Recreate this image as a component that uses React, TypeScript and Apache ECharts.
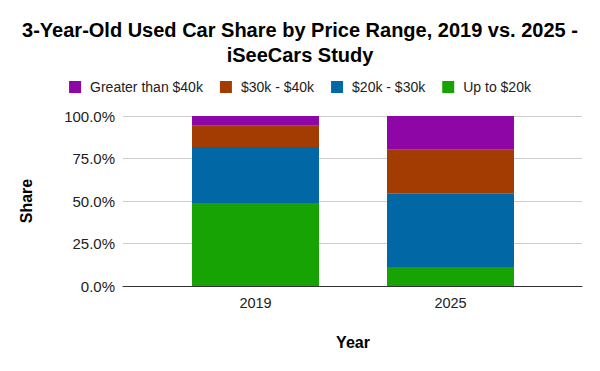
import React, { useEffect, useRef } from "react";
import * as echarts from "echarts";

const years = ["2019", "2025"];
const seriesNames = ["Up to $20k", "$20k - $30k", "$30k - $40k", "Greater than $40k"];
const upTo20k = [48.8, 11.2];
const k20to30 = [33.0, 43.1];
const k30to40 = [12.5, 25.9];
const over40k = [5.7, 19.8];
const seriesColors = ["#17a303", "#0268a5", "#a33c02", "#8e06a6"];
const yTicks = [0, 25, 50, 75, 100];

const FONT = "'Liberation Sans', Arial, sans-serif";

export default function App() {
  const ref = useRef<HTMLDivElement>(null);
  useEffect(() => {
    document.body.style.margin = "0";
    if (!ref.current) return;
    const chart = echarts.init(ref.current, undefined, { renderer: "svg" });
    const values = [upTo20k, k20to30, k30to40, over40k];
    chart.setOption({
      animation: false,
      backgroundColor: "#ffffff",
      textStyle: { fontFamily: FONT },
      title: {
        text: "3-Year-Old Used Car Share by Price Range, 2019 vs. 2025 -\niSeeCars Study",
        left: "center",
        top: 12,
        textStyle: { fontSize: 20, fontWeight: "bold", color: "#000", lineHeight: 25, fontFamily: FONT },
      },
      legend: {
        data: [...seriesNames].reverse(),
        top: 75,
        left: "center",
        itemWidth: 12,
        itemHeight: 12,
        itemGap: 17,
        icon: "rect",
        textStyle: { fontSize: 14, color: "#222", padding: [0, 0, 0, 4], fontFamily: FONT },
      },
      grid: [
        { left: 123, right: 18, top: 116, bottom: 85 },
        { left: 158, right: 52, top: 116, bottom: 85 },
      ],
      xAxis: [
        {
          type: "value",
          gridIndex: 0,
          min: 0,
          max: 1,
          axisLine: { show: true, lineStyle: { color: "#333", width: 1 } },
          axisTick: { show: false },
          axisLabel: { show: false },
          splitLine: { show: false },
        },
        {
          type: "category",
          gridIndex: 1,
          data: years,
          axisLine: { show: false },
          axisTick: { show: false },
          axisLabel: { fontSize: 14.5, color: "#222", margin: 9, fontFamily: FONT },
          name: "Year",
          nameLocation: "middle",
          nameGap: 48,
          nameTextStyle: { fontSize: 16, fontWeight: "bold", color: "#000", fontFamily: FONT },
        },
      ],
      yAxis: [
        {
          type: "value",
          gridIndex: 0,
          min: 0,
          max: 100,
          interval: 25,
          axisLine: { show: false },
          axisTick: { show: false },
          axisLabel: {
            fontSize: 15,
            color: "#222",
            margin: 8,
            fontFamily: FONT,
            formatter: (v: number) => (yTicks.includes(v) ? v.toFixed(1) + "%" : ""),
          },
          splitLine: { show: true, lineStyle: { color: "#cccccc", width: 1 } },
          name: "Share",
          nameLocation: "middle",
          nameGap: 89,
          nameRotate: 90,
          nameTextStyle: { fontSize: 16, fontWeight: "bold", color: "#000", fontFamily: FONT },
        },
        {
          type: "value",
          gridIndex: 1,
          min: 0,
          max: 100,
          show: false,
        },
      ],
      series: seriesNames.map((name, i) => ({
        name,
        type: "bar",
        stack: "total",
        xAxisIndex: 1,
        yAxisIndex: 1,
        barWidth: 127,
        itemStyle: { color: seriesColors[i] },
        data: values[i],
        z: 1,
      })),
    });
    return () => chart.dispose();
  }, []);
  return <div ref={ref} style={{ width: 600, height: 371 }} />;
}
